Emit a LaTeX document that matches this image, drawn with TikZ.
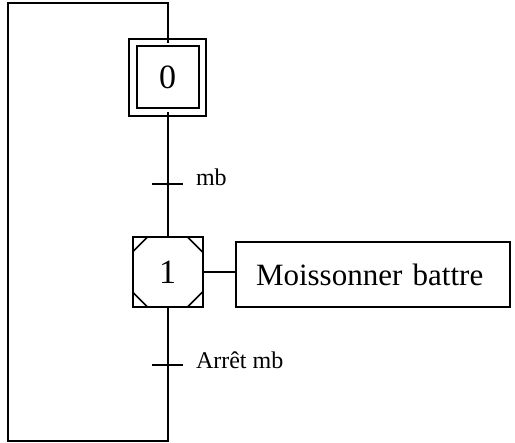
\documentclass[tikz,border=0pt]{standalone}
\usepackage{fontspec}
\setmainfont{Liberation Serif}
\begin{document}
\begin{tikzpicture}[x=1pt, y=-1pt, line width=2pt,
        stepbox/.style={rectangle, draw, outer sep=0pt, inner sep=0pt, font=\fontsize{34}{38}\selectfont},
        actbox/.style={rectangle, draw, outer sep=0pt, minimum width=274pt, minimum height=65pt, text width=234pt, align=left, font=\fontsize{31}{36}\selectfont},
        lbl/.style={anchor=base west, inner sep=0pt, font=\fontsize{24}{28}\selectfont}]
        \useasboundingbox (0,0) rectangle (515,443);
        \node[stepbox, minimum size=69.5pt, double, double distance=5.5pt] (s0) at (167.5,77.5) {0};
        \node[stepbox, minimum size=70pt] (s1) at (167.5,272) {1};
        \node[actbox] (a1) at (373,274.5) {Moissonner battre};
        \coordinate (t1) at (167.5,184);
        \coordinate (t2) at (167.5,365);
        \coordinate (top) at (167.5,3);
        \coordinate (bot) at (167.5,441);
        % corner cuts of step 1
        \foreach \c/\dx/\dy in {north west/1/-1, north east/-1/-1, south west/1/1, south east/-1/1} {
            \draw[line width=1.6pt] ([yshift=\dy*15pt]s1.\c) -- ([xshift=\dx*15pt]s1.\c);
        }
        \draw (s0.south) -- (t1) -- (s1.north);
        \draw (s1.south) -- (t2) -- (bot) -- (8,441) -- (8,3) -- (top) -- (s0.north);
        \draw (s1.east) -- (s1.east -| a1.west);
        \foreach \t in {t1,t2} {
            \draw ([xshift=-15.5pt]\t) -- ([xshift=15.5pt]\t);
        }
        \node[lbl] (l1) at (195,186) {mb};
        \node[lbl] (l2) at (195,369) {Arrêt mb};
    \end{tikzpicture}
\end{document}
